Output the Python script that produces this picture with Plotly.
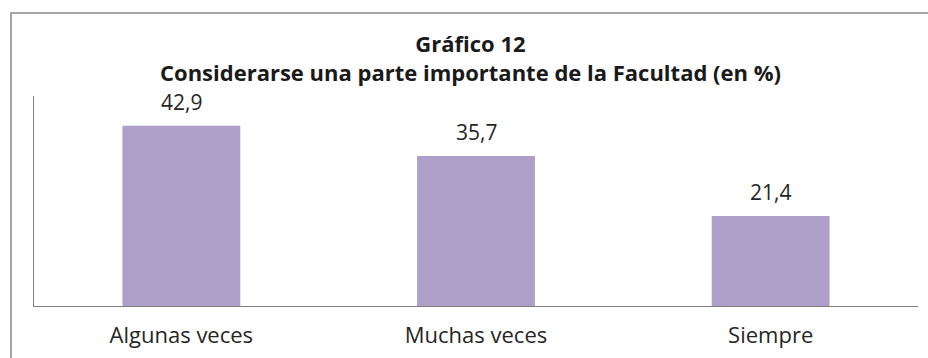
import plotly.graph_objects as go

categories = ["Algunas veces", "Muchas veces", "Siempre"]
values = [42.9, 35.7, 21.4]
title_lines = ["Gráfico 12", "Considerarse una parte importante de la Facultad (en %)"]

BAR_COLOR = "#ad9fc8"
FONT = "Open Sans"

# plot-area geometry (pixels) used to place the title in paper coordinates
L, R, T, B = 34, 10, 96, 52
W, H = 928, 358
PW, PH = W - L - R, H - T - B

fig = go.Figure()
fig.add_trace(go.Bar(
    x=categories, y=values, width=0.4,
    marker=dict(color=BAR_COLOR, line=dict(width=0)),
    hoverinfo="skip",
))

for c, v in zip(categories, values):
    fig.add_annotation(
        x=c, y=v, xref="x", yref="y",
        text=f"{v:.1f}".replace(".", ","),
        showarrow=False, yanchor="bottom", yshift=8,
        font=dict(family=FONT, size=21, color="#262626"),
    )

fig.add_annotation(
    x=(470 - L) / PW, y=(H - B - 58) / PH, xref="paper", yref="paper",
    text="<br>".join(f"<b>{t}</b>" for t in title_lines), showarrow=False,
    xanchor="center", yanchor="middle", align="center",
    font=dict(family=FONT, size=22, color="#1a1a1a"),
)

fig.update_layout(
    width=W, height=H,
    margin=dict(l=L, r=R, t=T, b=B),
    paper_bgcolor="white", plot_bgcolor="white",
    showlegend=False,
    xaxis=dict(
        showline=True, linecolor="#808080", linewidth=1,
        showgrid=False, zeroline=False,
        ticks="outside", ticklen=10, tickcolor="rgba(0,0,0,0)",
        tickfont=dict(family=FONT, size=22, color="#262626"),
    ),
    yaxis=dict(
        range=[0, 50], showline=True, linecolor="#808080", linewidth=1,
        showgrid=False, zeroline=False, showticklabels=False, ticks="",
    ),
    shapes=[dict(
        type="rect", xref="paper", yref="paper",
        x0=(11 - L) / PW, x1=(940 - L) / PW,
        y0=(H - B - 370) / PH, y1=(H - B - 13) / PH,
        line=dict(color="#a6a6a6", width=2), fillcolor="rgba(0,0,0,0)",
        layer="below",
    )],
)

fig.write_html("out.html")
